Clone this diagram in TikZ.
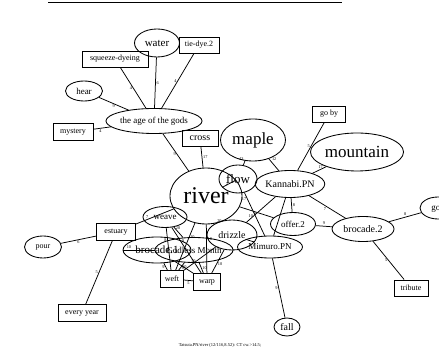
\documentclass[tikz,border=0pt]{standalone}
\usepackage{fontspec}
\setmainfont{Liberation Serif}
\usetikzlibrary{shapes.geometric}
\newcommand{\myfs}[1]{\fontsize{#1}{#1}\selectfont}
\tikzset{
  ell/.style={draw, ellipse, inner sep=0pt, line width=0.85pt},
  bx/.style={draw, rectangle, inner sep=0pt, line width=0.85pt},
  edge/.style={line width=0.75pt},
  el/.style={font=\myfs{4.3}, inner sep=0.8pt}
}
\begin{document}
\begin{tikzpicture}[x=1pt,y=-1pt]
\useasboundingbox (0,0) rectangle (439,352);
\begin{scope}
\clip (0,0) rectangle (439,352);
% top rule
\coordinate (tl) at (48,2);
\coordinate (tr) at (342,2);
\draw[line width=0.9pt] (tl) -- (tr);

% nodes
\node[ell, minimum width=45, minimum height=28, font=\myfs{11}] (water) at (157,43) {water};
\node[bx, minimum width=40, minimum height=16, font=\myfs{8}] (tiedye) at (199,45) {tie-dye.2};
\node[bx, minimum width=66, minimum height=16, font=\myfs{8}] (squeeze) at (115,59) {squeeze-dyeing};
\node[ell, minimum width=37, minimum height=20, font=\myfs{9}] (hear) at (84,91) {hear};
\node[ell, minimum width=90, minimum height=25, font=\myfs{9}] (age) at (154,121) {the age of the gods};
\node[bx, minimum width=40, minimum height=17, font=\myfs{8}] (mystery) at (73,132) {mystery};
\node[bx, minimum width=36, minimum height=16, font=\myfs{10}] (cross) at (200,138) {cross};
\node[ell, minimum width=65, minimum height=42, font=\myfs{17}] (maple) at (253,140) {maple};
\node[bx, minimum width=33, minimum height=16, font=\myfs{8}] (goby) at (329,114) {go by};
\node[ell, minimum width=93, minimum height=38, font=\myfs{17}] (mountain) at (357,152) {mountain};
\node[ell, minimum width=72, minimum height=56, font=\myfs{24}] (river) at (206,196) {river};
\node[ell, minimum width=38, minimum height=28, font=\myfs{13}] (flow) at (238,179) {flow};
\node[ell, minimum width=68, minimum height=27, font=\myfs{10}] (kannabi) at (290,184) {Kannabi.PN};
\node[ell, minimum width=45, minimum height=23, font=\myfs{9}] (offer) at (293,224) {offer.2};
\node[ell, minimum width=62, minimum height=25, font=\myfs{10}] (brocade2) at (363,229) {brocade.2};
\node[ell, minimum width=36, minimum height=22, font=\myfs{9}] (god) at (438,208) {god};
\node[bx, minimum width=34, minimum height=16, font=\myfs{8}] (tribute) at (411,288) {tribute};
\node[ell, minimum width=26, minimum height=18, font=\myfs{10}] (fall) at (287,327) {fall};
\node[ell, minimum width=65, minimum height=22, font=\myfs{9}] (mimuro) at (270,247) {Mimuro.PN};
\node[ell, minimum width=50, minimum height=30, font=\myfs{10}] (drizzle) at (232,235) {drizzle};
\node[ell, minimum width=44, minimum height=21, font=\myfs{9}] (weave) at (165,217) {weave};
\node[bx, minimum width=39, minimum height=17, font=\myfs{8}] (estuary) at (116,232) {estuary};
\node[ell, minimum width=37, minimum height=22, font=\myfs{8}] (pour) at (43,247) {pour};
\node[bx, minimum width=48, minimum height=17, font=\myfs{8}] (everyyear) at (82,313) {every year};
\node[ell, minimum width=68, minimum height=26, font=\myfs{11}] (brocade1) at (157,250) {brocade.1};
\node[ell, minimum width=78, minimum height=25, font=\myfs{9}] (godless) at (194,250) {Godless Month};
\node[bx, minimum width=23, minimum height=17, font=\myfs{8}, fill=white] (weft) at (172,279) {weft};
\node[bx, minimum width=27, minimum height=17, font=\myfs{8}, fill=white] (warp) at (207,282) {warp};

% outer edges
\draw[edge] (age) -- node[el, right, pos=0.5] {6} (water);
\draw[edge] (age) -- node[el, left, pos=0.5] {4} (tiedye);
\draw[edge] (age) -- node[el, left, pos=0.5] {4} (squeeze);
\draw[edge] (age) -- node[el, below, pos=0.5] {9} (hear);
\draw[edge] (age) -- node[el, below, pos=0.6] {4} (mystery);
\draw[edge] (age) -- node[el, left, pos=0.55] {9} (river);
\draw[edge] (cross) -- node[el, right, pos=0.5] {17} (river);
\draw[edge] (maple) -- node[el, above left, pos=0.2] {43} (flow);
\draw[edge] (maple) -- node[el, above right, pos=0.2] {12} (kannabi);
\draw[edge] (goby) -- node[el, left, pos=0.5] {5} (kannabi);
\draw[edge] (mountain) -- node[el, above, pos=0.4] {17} (kannabi);
\draw[edge] (kannabi) -- node[el, below left, pos=0.5] {7} (brocade2);
\draw[edge] (kannabi) -- node[el, right, pos=0.5] {8} (offer);
\draw[edge] (offer) -- node[el, above, pos=0.5] {9} (brocade2);
\draw[edge] (brocade2) -- node[el, above, pos=0.5] {8} (god);
\draw[edge] (brocade2) -- node[el, left, pos=0.5] {5} (tribute);
\draw[edge] (mimuro) -- node[el, left, pos=0.5] {9} (fall);
\draw[edge] (estuary) -- node[el, below, pos=0.5] {6} (pour);
\draw[edge] (estuary) -- node[el, left, pos=0.5] {5} (everyyear);
\draw[edge] (estuary) -- node[el, above, pos=0.3] {7} (river);

% central tangle
\draw[edge] (river) -- node[el, left, pos=0.5] {2} (flow);
\draw[edge] (flow) -- node[el, left, pos=0.15] {17} (mimuro);
\draw[edge] (river) -- node[el, below, pos=0.45] {8} (offer);
\draw[edge] (kannabi) -- node[el, above, pos=0.85] {10} (drizzle);
\draw[edge] (kannabi) -- (mimuro);
\draw[edge] (river) -- node[el, left, pos=0.2] {20} (drizzle);
\draw[edge] (drizzle) -- (mimuro);
\draw[edge] (weave) -- node[el, left, pos=0.3] {8} (weft);
\draw[edge] (weave) -- node[el, right, pos=0.3] {9} (warp);
\draw[edge] (weave) -- node[el, right, pos=0.1] {20} (godless);
\draw[edge] (river) -- node[el, right, pos=0.3] {10} (weft);
\draw[edge] (river) -- node[el, right, pos=0.3] {10} (warp);
\draw[edge] (drizzle) -- node[el, left, pos=0.6] {10} (weft);
\draw[edge] (drizzle) -- node[el, right, pos=0.6] {10} (warp);
\draw[edge] (brocade1) -- node[el, left, pos=0.6] {8} (warp);
\draw[edge] (brocade1) -- node[el, left, pos=0.5] {9} (weft);
\draw[edge] (godless) -- node[el, right, pos=0.6] {10} (weft);
\draw[edge] (godless) -- node[el, right, pos=0.5] {10} (warp);
\draw[edge] (weft) -- node[el, below, pos=0.5] {5} (warp);
\draw[edge] (brocade1) -- node[el, above, pos=0.2] {10} (godless);

% footer
\node[font=\myfs{4.5}] (footer) at (220,345) {Tatsuta.PN/river (12/116,8.52): CT cw.>14.5;};
\end{scope}
\end{tikzpicture}
\end{document}
